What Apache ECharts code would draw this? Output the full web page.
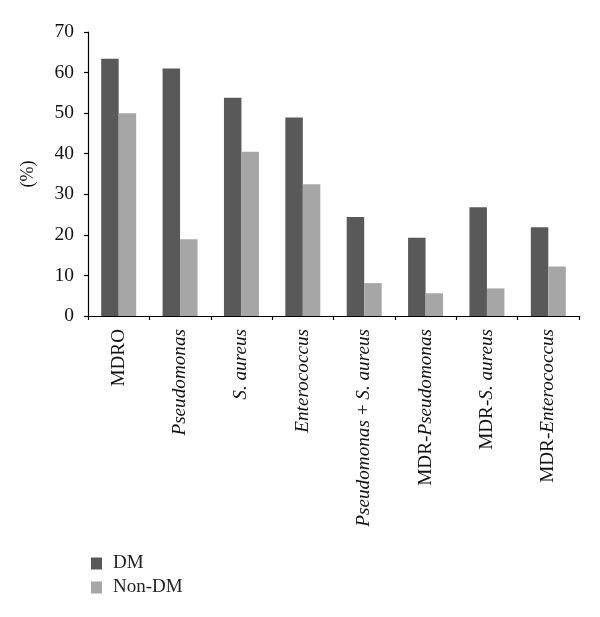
<!DOCTYPE html>
<html>
<head>
<meta charset="utf-8">
<script src="https://cdn.jsdelivr.net/npm/echarts@6/dist/echarts.min.js"></script>
<style>html,body{margin:0;padding:0;background:#fff;}#c{width:600px;height:617px;}</style>
</head>
<body>
<div id="c"></div>
<script>
var categories = ['MDRO', 'Pseudomonas', 'S. aureus', 'Enterococcus', 'Pseudomonas + S. aureus', 'MDR-Pseudomonas', 'MDR-S. aureus', 'MDR-Enterococcus'];
var italicTerms = ['Pseudomonas', 'S. aureus', 'Enterococcus'];
var dmValues = [63.4, 61.0, 53.8, 48.9, 24.4, 19.3, 26.8, 21.9];
var nonDmValues = [50.0, 18.9, 40.5, 32.5, 8.1, 5.6, 6.8, 12.2];
var seriesNames = ['DM', 'Non-DM'];
var yTicks = [0, 10, 20, 30, 40, 50, 60, 70];

var FONT = '"Liberation Serif", "Times New Roman", serif';

function fmtLabel(s) {
  var out = s;
  italicTerms.forEach(function (t) {
    out = out.split(t).join('\u0001' + t + '\u0002');
  });
  return out.replace(/\u0001/g, '{i|').replace(/\u0002/g, '}');
}

var chart = echarts.init(document.getElementById('c'), null, {renderer: 'canvas'});
chart.setOption({
  backgroundColor: '#ffffff',
  animation: false,
  textStyle: {fontFamily: FONT},
  grid: {left: 88, right: 21, top: 32, bottom: 301, containLabel: false},
  legend: {
    orient: 'vertical',
    left: 86,
    top: 549,
    itemWidth: 11,
    itemHeight: 12,
    itemGap: 5,
    icon: 'rect',
    data: seriesNames,
    textStyle: {fontFamily: FONT, fontSize: 19, color: '#222', padding: [0, 0, 0, 6]}
  },
  xAxis: {
    type: 'category',
    data: categories,
    axisLine: {lineStyle: {color: '#000', width: 1.2}},
    axisTick: {show: true, length: 4, lineStyle: {color: '#000', width: 1.2}},
    axisLabel: {
      rotate: 90,
      margin: 13,
      interval: 0,
      fontFamily: FONT,
      fontSize: 19.2,
      color: '#111',
      formatter: function (v) { return fmtLabel(v); },
      rich: {
        i: {fontFamily: FONT, fontSize: 19.2, fontStyle: 'italic', color: '#111'}
      }
    }
  },
  yAxis: {
    type: 'value',
    min: yTicks[0],
    max: yTicks[yTicks.length - 1],
    interval: 10,
    name: '(%)',
    nameLocation: 'middle',
    nameRotate: 90,
    nameGap: 51,
    nameTextStyle: {fontFamily: FONT, fontSize: 18, color: '#111'},
    axisLine: {show: true, lineStyle: {color: '#000', width: 1.2}},
    axisTick: {show: true, length: 4, lineStyle: {color: '#000', width: 1.2}},
    splitLine: {show: false},
    axisLabel: {fontFamily: FONT, fontSize: 19.5, color: '#111', margin: 14}
  },
  series: [
    {name: seriesNames[0], type: 'bar', data: dmValues, barGap: '0%', barCategoryGap: '43%', itemStyle: {color: '#595959'}},
    {name: seriesNames[1], type: 'bar', data: nonDmValues, barGap: '0%', barCategoryGap: '43%', itemStyle: {color: '#a6a6a6'}}
  ]
});
</script>
</body>
</html>
